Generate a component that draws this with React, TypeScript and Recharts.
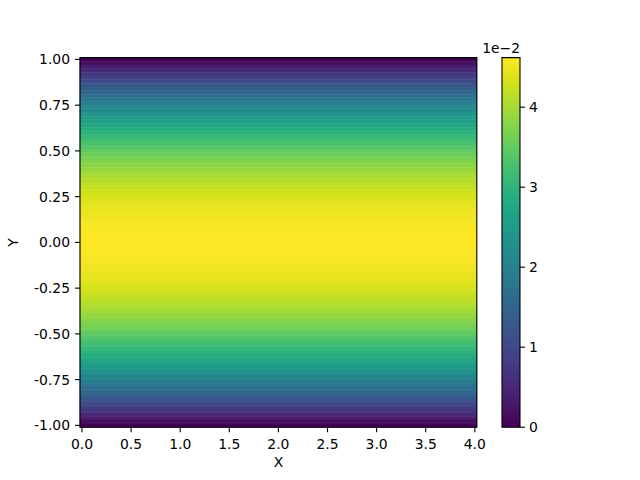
import React from "react";
import {
  ComposedChart,
  XAxis,
  YAxis,
  ReferenceArea,
} from "recharts";

// velocity profile u(y), in units of 1e-2, rows from y = 1.00 (top) to y = -1.00 (bottom)
const velocity = [
  0.0, 0.18, 0.36, 0.54, 0.71, 0.88, 1.04, 1.2, 1.36, 1.51, 1.66, 1.81, 1.95,
  2.09, 2.23, 2.36, 2.48, 2.61, 2.73, 2.84, 2.96, 3.07, 3.17, 3.27, 3.37, 3.47,
  3.56, 3.64, 3.73, 3.81, 3.88, 3.95, 4.02, 4.09, 4.15, 4.2, 4.26, 4.31, 4.35,
  4.4, 4.44, 4.47, 4.5, 4.53, 4.55, 4.57, 4.59, 4.6, 4.61, 4.62, 4.62, 4.62,
  4.61, 4.6, 4.59, 4.57, 4.55, 4.53, 4.5, 4.47, 4.44, 4.4, 4.35, 4.31, 4.26,
  4.2, 4.15, 4.09, 4.02, 3.95, 3.88, 3.81, 3.73, 3.64, 3.56, 3.47, 3.37, 3.27,
  3.17, 3.07, 2.96, 2.84, 2.73, 2.61, 2.48, 2.36, 2.23, 2.09, 1.95, 1.81, 1.66,
  1.51, 1.36, 1.2, 1.04, 0.88, 0.71, 0.54, 0.36, 0.18, 0.0,
];

const xTicks = [0, 0.5, 1, 1.5, 2, 2.5, 3, 3.5, 4];
const yTicks = [-1, -0.75, -0.5, -0.25, 0, 0.25, 0.5, 0.75, 1];
const cbarTicks = [0, 1, 2, 3, 4];

const X_MIN = 0;
const X_MAX = 4;
const DX = 0.04;
const DY = 0.02;
const V_MAX = 4.62;

const viridis = [
  "#440154", "#48186a", "#472d7b", "#424086", "#3b528b", "#33638d",
  "#2c728e", "#26828e", "#21918c", "#1fa088", "#28ae80", "#3fbc73",
  "#5ec962", "#84d44b", "#addc30", "#d8e219", "#fde725",
];

const hexToRgb = (h: string) => [
  parseInt(h.slice(1, 3), 16),
  parseInt(h.slice(3, 5), 16),
  parseInt(h.slice(5, 7), 16),
];

const colorAt = (t: number) => {
  const c = Math.max(0, Math.min(1, t)) * (viridis.length - 1);
  const i = Math.min(Math.floor(c), viridis.length - 2);
  const f = c - i;
  const a = hexToRgb(viridis[i]);
  const b = hexToRgb(viridis[i + 1]);
  const m = a.map((v, k) => Math.round(v + (b[k] - v) * f));
  return `rgb(${m[0]},${m[1]},${m[2]})`;
};

const FONT = "'DejaVu Sans', sans-serif";
const tickStyle = { fill: "#000", fontSize: 13.9, fontFamily: FONT };
const tickLineStyle = { stroke: "#000", strokeWidth: 1.1 };

const xLo = X_MIN - DX / 2;
const xHi = X_MAX + DX / 2;
const yLo = -1 - DY / 2;
const yHi = 1 + DY / 2;

const rows = velocity.map((v, i) => ({ y: 1 - i * DY, v }));

export default function App() {
  return (
    <div
      style={{
        position: "absolute",
        left: 0,
        top: 0,
        width: 640,
        height: 480,
        background: "#fff",
        fontFamily: FONT,
      }}
    >
      {/* main field */}
      <div style={{ position: "absolute", left: 0, top: 0 }}>
        <ComposedChart
          width={640}
          height={480}
          data={[]}
          margin={{ top: 57.6, right: 163.2, bottom: 8.8, left: 20 }}
        >
          <XAxis
            type="number"
            dataKey="x"
            domain={[xLo, xHi]}
            ticks={xTicks}
            interval={0}
            allowDataOverflow
            height={44}
            axisLine={false}
            tickLine={tickLineStyle}
            tickSize={5}
            tickMargin={7}
            tick={tickStyle}
            tickFormatter={(v: number) => v.toFixed(1)}
            label={{
              value: "X",
              position: "insideBottom",
              offset: 4.5,
              fill: "#000",
              fontSize: 13.9,
              fontFamily: FONT,
            }}
          />
          <YAxis
            type="number"
            dataKey="y"
            domain={[yLo, yHi]}
            ticks={yTicks}
            interval={0}
            allowDataOverflow
            width={60}
            axisLine={false}
            tickLine={tickLineStyle}
            tickSize={5}
            tickMargin={5}
            tick={tickStyle}
            tickFormatter={(v: number) => v.toFixed(2)}
            label={{
              value: "Y",
              content: (p: any) => {
                const cy = p.viewBox.y + p.viewBox.height / 2;
                return (
                  <text
                    x={18}
                    y={cy}
                    transform={`rotate(-90 18 ${cy})`}
                    textAnchor="middle"
                    fill="#000"
                    fontSize={13.9}
                    fontFamily={FONT}
                  >
                    Y
                  </text>
                );
              },
            }}
          />
          {rows.map((r, i) => (
            <ReferenceArea
              key={i}
              x1={xLo}
              x2={xHi}
              y1={Math.max(yLo, r.y - DY / 2)}
              y2={Math.min(yHi, r.y + DY / 2)}
              fill={colorAt(r.v / V_MAX)}
              fillOpacity={1}
              stroke={colorAt(r.v / V_MAX)}
              strokeWidth={0.6}
              ifOverflow="visible"
            />
          ))}
          <ReferenceArea
            x1={xLo}
            x2={xHi}
            y1={yLo}
            y2={yHi}
            fill="none"
            fillOpacity={0}
            stroke="#000"
            strokeWidth={1.1}
            ifOverflow="visible"
          />
        </ComposedChart>
      </div>

      {/* colorbar */}
      <div style={{ position: "absolute", left: 0, top: 0 }}>
        <ComposedChart
          width={640}
          height={480}
          data={[]}
          margin={{ top: 57.6, right: 60, bottom: 52.8, left: 502 }}
        >
          <defs>
            <linearGradient id="viridisGrad" x1="0" y1="1" x2="0" y2="0">
              {viridis.map((c, i) => (
                <stop key={i} offset={i / (viridis.length - 1)} stopColor={c} />
              ))}
            </linearGradient>
          </defs>
          <XAxis
            type="number"
            dataKey="x"
            domain={[0, 1]}
            allowDataOverflow
            hide
          />
          <YAxis
            type="number"
            dataKey="v"
            orientation="right"
            domain={[0, V_MAX]}
            ticks={cbarTicks}
            interval={0}
            allowDataOverflow
            width={60}
            axisLine={false}
            tickLine={tickLineStyle}
            tickSize={5}
            tickMargin={4}
            tick={tickStyle}
            label={{
              value: "1e\u22122",
              content: (p: any) => (
                <text
                  x={p.viewBox.x}
                  y={53.3}
                  textAnchor="end"
                  fill="#000"
                  fontSize={13.9}
                  fontFamily={FONT}
                >
                  1e{"\u2212"}2
                </text>
              ),
            }}
          />
          <ReferenceArea
            x1={0}
            x2={1}
            y1={0}
            y2={V_MAX}
            fill="url(#viridisGrad)"
            fillOpacity={1}
            stroke="#000"
            strokeWidth={1.1}
            ifOverflow="visible"
          />
        </ComposedChart>
      </div>
    </div>
  );
}
